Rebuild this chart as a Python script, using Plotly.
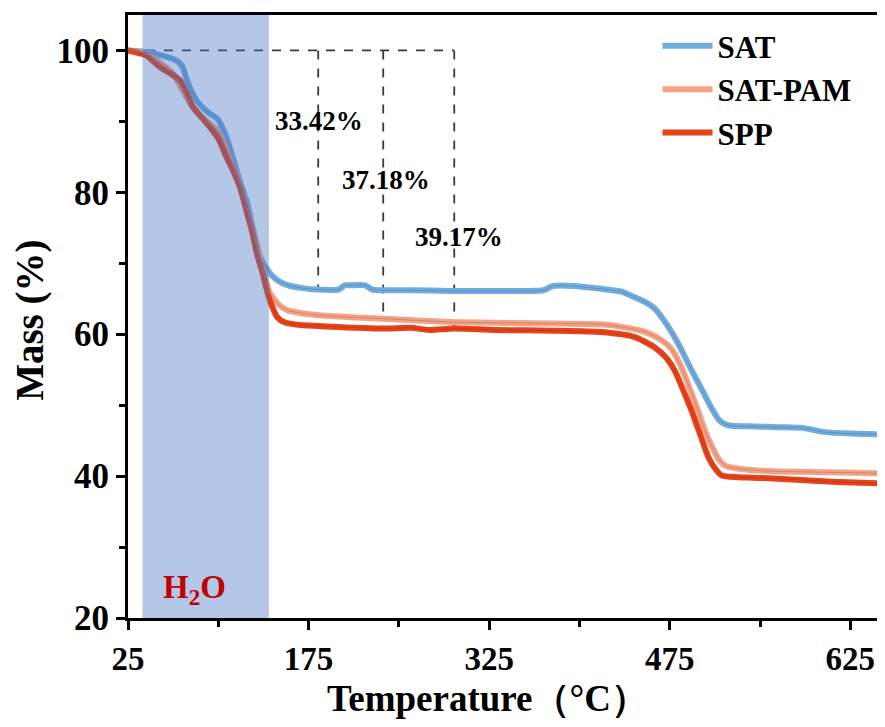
import plotly.graph_objects as go

# ---- data ----
SAT_T = [25, 40, 55, 65, 70, 74, 80, 85, 92, 99, 105, 112, 118, 124, 130, 135, 140, 145, 152, 160, 170, 182,
         200, 205, 210, 222, 228, 240, 260, 293, 330, 370, 378, 395, 418, 435, 446, 455, 462, 470, 482, 492,
         502, 510, 516, 521, 526, 545, 565, 585, 604, 625, 648]
SAT_M = [100, 99.8, 99.2, 98.6, 97.8, 95.8, 93.5, 92.3, 91.2, 90.4, 88.5, 85.0, 81.5, 78.5, 74.0, 70.8, 69.3,
         68.2, 67.3, 66.8, 66.5, 66.3, 66.3, 66.9, 66.9, 66.9, 66.3, 66.2, 66.2, 66.1, 66.1, 66.2, 66.8, 66.8,
         66.4, 66.0, 65.2, 64.5, 63.7, 62.0, 58.7, 55.3, 52.1, 49.5, 47.9, 47.3, 47.1, 47.0, 46.9, 46.8, 46.2,
         46.0, 45.9]

SATPAM_T = [25, 40, 52, 62, 70, 78, 85, 92, 100, 106, 112, 118, 125, 132, 138, 143, 150, 157, 168, 182, 210,
            237, 270, 296, 340, 380, 418, 440, 455, 468, 476, 482, 488, 493, 499, 504, 510, 516, 520, 524, 540,
            560, 585, 620, 648]
SATPAM_M = [100, 99.5, 98.2, 96.8, 94.5, 92.2, 90.8, 89.8, 88.6, 86.5, 84.0, 81.0, 77.0, 72.5, 68.5, 65.8,
            64.2, 63.4, 63.0, 62.7, 62.4, 62.2, 61.9, 61.7, 61.6, 61.5, 61.4, 60.9, 60.3, 59.2, 58.0, 56.3, 54.0,
            51.7, 49.0, 46.5, 44.2, 42.3, 41.6, 41.3, 40.9, 40.7, 40.6, 40.5, 40.4]

SPP_T = [25, 40, 52, 60, 68, 74, 79, 86, 93, 100, 107, 113, 118, 124, 128, 132, 137, 141, 145, 149, 155, 168,
         190, 237, 260, 275, 296, 330, 380, 418, 446, 462, 472, 479, 486, 493, 500, 507, 513, 518, 525, 540,
         557, 580, 610, 648]
SPP_M = [100, 99.3, 97.6, 96.8, 95.8, 93.9, 92.0, 90.6, 89.2, 87.6, 84.9, 82.8, 80.7, 77.0, 74.5, 71.4, 68.5,
         65.8, 63.8, 62.4, 61.7, 61.3, 61.1, 60.8, 60.9, 60.6, 60.8, 60.6, 60.5, 60.3, 59.6, 58.2, 56.7, 54.9,
         52.2, 49.3, 46.0, 42.7, 41.0, 40.1, 39.9, 39.8, 39.7, 39.5, 39.2, 39.0]

SERIES = ["SAT", "SAT-PAM", "SPP"]
DROP_T = [183, 237, 296]            # where each loss is marked
DROP_M = [66.3, 62.2, 60.8]         # residual mass at that point
DROP_LABELS = ["33.42%", "37.18%", "39.17%"]
LABEL_T = [184, 239, 300]
LABEL_M = [90.1, 81.7, 73.7]
WATER_RANGE = [37, 142]
X_TICKS = [25, 175, 325, 475, 625]
Y_TICKS = [20, 40, 60, 80, 100]

COLORS = ["#72ACDD", "#F7A184", "#E6431B"]
CORE = ["#4F8BC4", "#B88272", "#C8320E"]
FONT = "Liberation Serif"

fig = go.Figure()

# dashed guide lines
fig.add_trace(go.Scatter(x=[X_TICKS[0], DROP_T[-1]], y=[100, 100], mode="lines",
                         line=dict(color="#3a3a3a", width=1.8, dash="dash"), showlegend=False, hoverinfo="skip"))
for t, m in zip(DROP_T, DROP_M):
    fig.add_trace(go.Scatter(x=[t, t], y=[100, m], mode="lines",
                             line=dict(color="#3a3a3a", width=1.8, dash="dash"), showlegend=False,
                             hoverinfo="skip"))

data = [(SAT_T, SAT_M), (SATPAM_T, SATPAM_M), (SPP_T, SPP_M)]
for (t, m), name, c in zip(data, SERIES, COLORS):
    fig.add_trace(go.Scatter(x=t, y=m, mode="lines", name=name,
                             line=dict(color=c, width=6, shape="spline", smoothing=0.6)))
for (t, m), c in zip(data, CORE):
    fig.add_trace(go.Scatter(x=t, y=m, mode="lines", showlegend=False, hoverinfo="skip",
                             line=dict(color=c, width=0.8, shape="spline", smoothing=0.6)))

# water-loss shaded region (drawn on top, translucent)
fig.add_shape(type="rect", xref="x", yref="paper", x0=WATER_RANGE[0], x1=WATER_RANGE[1], y0=0, y1=1,
              fillcolor="#4472C4", opacity=0.4, line_width=0, layer="above")

for lab, t, m in zip(DROP_LABELS, LABEL_T, LABEL_M):
    fig.add_annotation(x=t, y=m, text="<b>" + lab + "</b>", showarrow=False,
                       font=dict(family=FONT, size=27, color="black"))

fig.add_annotation(x=(WATER_RANGE[0] + WATER_RANGE[1]) / 2 - 9, y=24, text="<b>H<sub>2</sub>O</b>",
                   showarrow=False, font=dict(family=FONT, size=33, color="#C00000"))

# axis titles
fig.add_annotation(xref="paper", yref="paper", x=0.479, y=-0.134, xanchor="center", yanchor="middle",
                   text="<b>Temperature（°C）</b>", showarrow=False,
                   font=dict(family=FONT, size=37, color="black"))
fig.add_annotation(xref="paper", yref="paper", x=-0.131, y=0.494, xanchor="center", yanchor="middle",
                   text="<b>Mass (%)</b>", showarrow=False, textangle=-90,
                   font=dict(family=FONT, size=39, color="black"))

axis_common = dict(showline=True, linecolor="black", linewidth=3, mirror=True, ticks="outside",
                   ticklen=9, tickwidth=3, tickcolor="black", showgrid=False, zeroline=False,
                   automargin=False)

fig.update_xaxes(range=[25, 648], tickvals=X_TICKS,
                 tickfont=dict(family=FONT, size=33, color="black", weight="bold"),
                 minor=dict(tickvals=[100, 250, 400, 550], ticks="outside", ticklen=6, tickwidth=3,
                            tickcolor="black"),
                 **axis_common)
fig.update_yaxes(range=[20, 105], tickvals=Y_TICKS,
                 tickfont=dict(family=FONT, size=35, color="black", weight="bold"),
                 minor=dict(tickvals=[30, 50, 70, 90], ticks="outside", ticklen=6, tickwidth=3,
                            tickcolor="black"),
                 **axis_common)

fig.update_layout(
    width=877, height=719,
    margin=dict(l=120, r=7, t=7, b=109),
    plot_bgcolor="white", paper_bgcolor="white",
    legend=dict(x=0.706, y=0.993, xanchor="left", yanchor="top", bgcolor="rgba(0,0,0,0)",
                font=dict(family=FONT, size=31, color="black", weight="bold"),
                itemwidth=50, tracegroupgap=0),
)

fig.write_html("out.html")
